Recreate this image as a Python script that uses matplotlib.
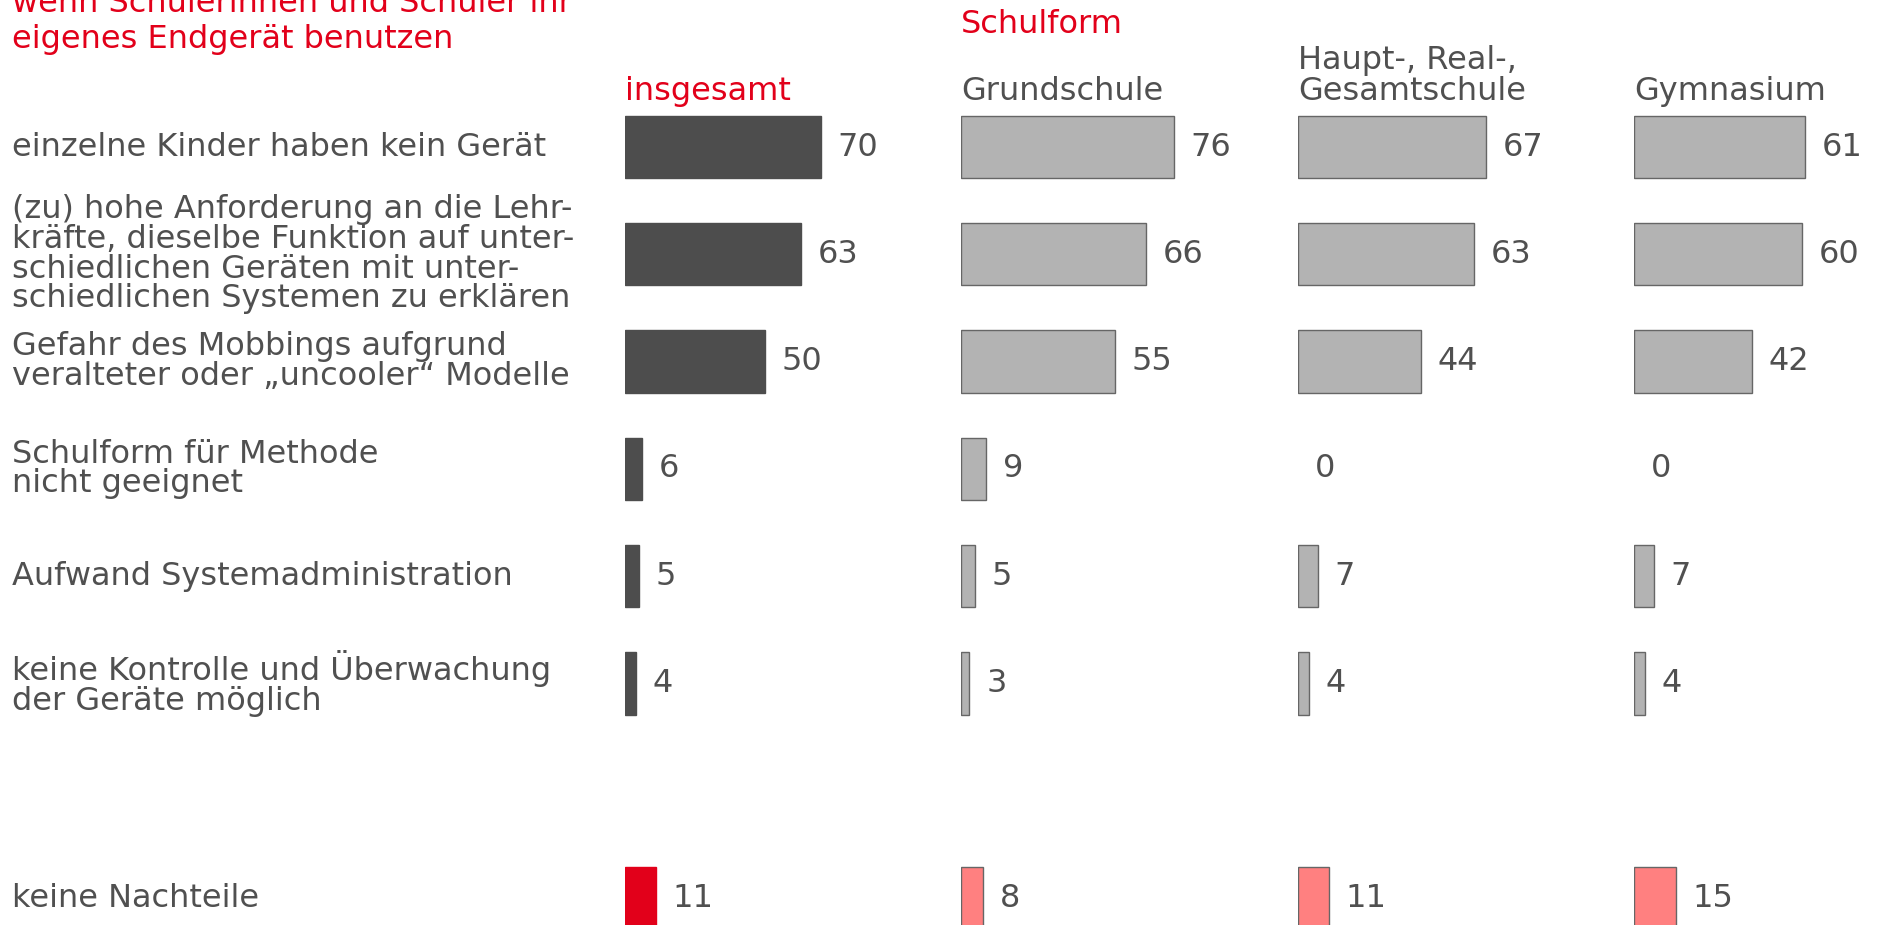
import matplotlib
matplotlib.use("Agg")
from matplotlib import pyplot as plt
from matplotlib.transforms import blended_transform_factory

# data
labels = [
    "einzelne Kinder haben kein Gerät",
    "(zu) hohe Anforderung an die Lehr-\nkräfte, dieselbe Funktion auf unter-\nschiedlichen Geräten mit unter-\nschiedlichen Systemen zu erklären",
    "Gefahr des Mobbings aufgrund\nveralteter oder „uncooler“ Modelle",
    "Schulform für Methode\nnicht geeignet",
    "Aufwand Systemadministration",
    "keine Kontrolle und Überwachung\nder Geräte möglich",
    "",
    "keine Nachteile",
]
groups = ["insgesamt", "Grundschule", "Haupt-, Real-,\nGesamtschule", "Gymnasium"]
insgesamt = [70, 63, 50, 6, 5, 4, None, 11]
grundschule = [76, 66, 55, 9, 5, 3, None, 8]
haupt_real_gesamt = [67, 63, 44, 0, 7, 4, None, 11]
gymnasium = [61, 60, 42, 0, 7, 4, None, 15]
series = [insgesamt, grundschule, haupt_real_gesamt, gymnasium]

title = "wenn Schülerinnen und Schüler ihr\neigenes Endgerät benutzen"

RED = "#e2001a"
TXT = "#505050"
W, H = 1877, 925
fig = plt.figure(figsize=(W / 100, H / 100), dpi=100)
plt.rcParams["font.family"] = ["DejaVu Sans"]
FS = 23

# px per unit ~2.8, first row centre at 147 px, row step 107.3 px
row_px0, row_step = 147, 107.3
ylim = ((H - row_px0) / row_step, -row_px0 / row_step)
lefts = [625, 961, 1298, 1634]
span = 100
ax_w = span * 2.8

axes = []
for k, (vals, name) in enumerate(zip(series, groups)):
    ax = fig.add_axes([lefts[k] / W, 0, ax_w / W, 1])
    ax.set_xlim(0, span)
    ax.set_ylim(*ylim)
    ax.axis("off")
    for i, v in enumerate(vals):
        if v is None:
            continue
        last = i == len(vals) - 1
        if k == 0:
            fc = RED if last else "#4d4d4d"
            ec = fc
        else:
            fc = "#ff8080" if last else "#b3b3b3"
            ec = "#666666"
        if v > 0:
            ax.barh(i, v, height=0.58, color=fc, edgecolor=ec, linewidth=1)
        ax.annotate(str(v), (v, i), xytext=(12, 0), textcoords="offset points",
                    va="center", ha="left", fontsize=FS, color=TXT)
    ax.text(0, -0.44, name, va="baseline", ha="left", fontsize=FS,
            color=RED if k == 0 else TXT, linespacing=1.0)
    axes.append(ax)

axes[1].text(0, -1.06, "Schulform", va="baseline", ha="left", fontsize=FS, color=RED)

tr = blended_transform_factory(fig.transFigure, axes[0].transData)
for i, lab in enumerate(labels):
    fig.text(12 / W, i, lab, transform=tr, va="center", ha="left",
             fontsize=FS, color=TXT, linespacing=0.94)

fig.text(12 / W, 1 - 48 / H, title, va="baseline", ha="left", fontsize=FS,
         color=RED, linespacing=1.2)

fig.savefig("out.png", dpi=100)
